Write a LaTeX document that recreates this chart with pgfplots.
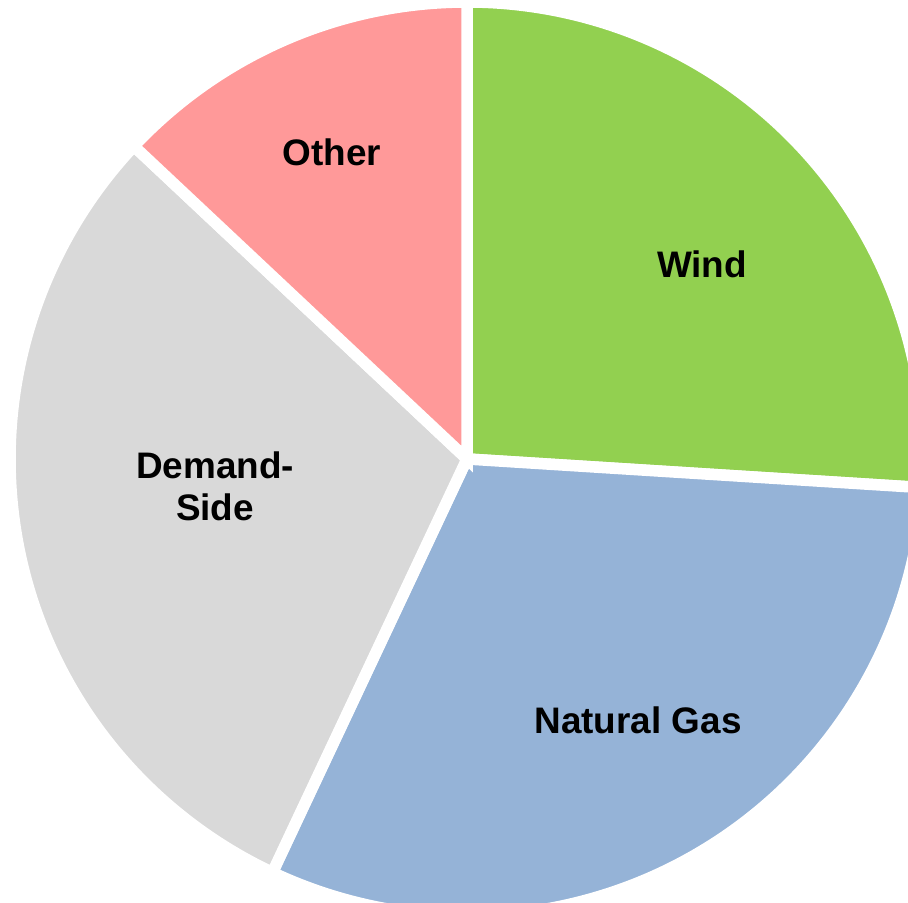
\documentclass[border=0pt]{standalone}
\usepackage{fontspec}
\setmainfont{Liberation Sans}
\usepackage{pgfplots}
\pgfplotsset{compat=1.18}
\definecolor{windc}{RGB}{146,208,80}
\definecolor{gasc}{RGB}{149,179,215}
\definecolor{demc}{RGB}{217,217,217}
\definecolor{othc}{RGB}{255,153,153}
% shares in percent
\def\vWind{26}
\def\vGas{31}
\def\vDem{30}
\def\vOth{13}
\pgfmathsetmacro\aA{90}
\pgfmathsetmacro\aB{\aA-3.6*\vWind}
\pgfmathsetmacro\aC{\aB-3.6*\vGas}
\pgfmathsetmacro\aD{\aC-3.6*\vDem}
\pgfmathsetmacro\aE{\aD-3.6*\vOth}
\def\R{4.57cm}
\begin{document}
\begin{tikzpicture}
\begin{axis}[width=9.08cm,height=9.03cm,scale only axis,hide axis,
  xmin=0,xmax=908,ymin=-903,ymax=0,clip=true]
\fill[windc,draw=white,line width=1.15mm] (axis cs:467,-459) -- ++(\aA:\R) arc[start angle=\aA,end angle=\aB,radius=\R] -- cycle;
\fill[gasc,draw=white,line width=1.15mm] (axis cs:467,-459) -- ++(\aB:\R) arc[start angle=\aB,end angle=\aC,radius=\R] -- cycle;
\fill[demc,draw=white,line width=1.15mm] (axis cs:467,-459) -- ++(\aC:\R) arc[start angle=\aC,end angle=\aD,radius=\R] -- cycle;
\fill[othc,draw=white,line width=1.15mm] (axis cs:467,-459) -- ++(\aD:\R) arc[start angle=\aD,end angle=\aE,radius=\R] -- cycle;
\node[font=\fontsize{10.5}{11.9}\selectfont\bfseries] at (axis cs:702,-264) {Wind};
\node[font=\fontsize{10.5}{11.9}\selectfont\bfseries] at (axis cs:638,-720) {Natural Gas};
\node[font=\fontsize{10.5}{11.9}\selectfont\bfseries,align=center] at (axis cs:215,-486) {Demand-\\Side};
\node[font=\fontsize{10.5}{11.9}\selectfont\bfseries] at (axis cs:332,-152) {Other};
\end{axis}
\pgfresetboundingbox
\useasboundingbox (current axis.south west) rectangle (current axis.north east);
\end{tikzpicture}
\end{document}
